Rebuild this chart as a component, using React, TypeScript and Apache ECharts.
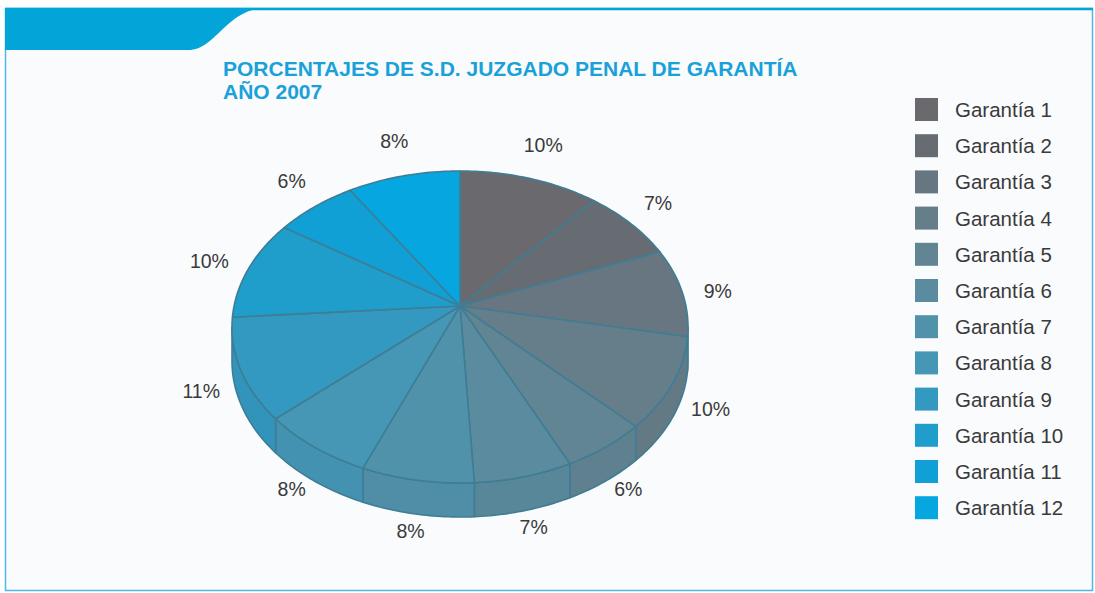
import React, { useEffect, useRef } from 'react';
import * as echarts from 'echarts';

const categories = [
  'Garantía 1', 'Garantía 2', 'Garantía 3', 'Garantía 4', 'Garantía 5', 'Garantía 6',
  'Garantía 7', 'Garantía 8', 'Garantía 9', 'Garantía 10', 'Garantía 11', 'Garantía 12',
];
const percentages = [10, 7, 9, 10, 6, 7, 8, 8, 11, 10, 6, 8];
const sliceColors = [
  '#6a6a6e', '#676c72', '#677680', '#667e89', '#628593', '#5b8b9f',
  '#5192ab', '#4697b6', '#3499c1', '#1f9dcb', '#10a0d5', '#06a7e1',
];
const titleText = 'PORCENTAJES DE S.D. JUZGADO PENAL DE GARANTÍA\nAÑO 2007';

// pie geometry: elliptical rim, apex above the ellipse centre (Excel-like 3D pie)
const CX = 460;
const EY = 327; // ellipse centre y
const AY = 306; // apex y
const RX = 228;
const RY = 156;
const T = 34;
const LX = 250; // label ellipse
const LY = 200;
const LCY = 335;
const EDGE = '#3f7d95';
const LABEL_FONT = 19.5;

function rim(theta: number, dy = 0): number[] {
  return [CX + RX * Math.sin(theta), EY - RY * Math.cos(theta) + dy];
}

function shade(hex: string, f: number): string {
  const n = parseInt(hex.slice(1), 16);
  const r = Math.round(((n >> 16) & 255) * f);
  const g = Math.round(((n >> 8) & 255) * f);
  const b = Math.round((n & 255) * f);
  return 'rgb(' + r + ',' + g + ',' + b + ')';
}

function bez(p0: number[], p1: number[], p2: number[], p3: number[], n: number): number[][] {
  const out: number[][] = [];
  for (let i = 0; i <= n; i++) {
    const t = i / n;
    const u = 1 - t;
    out.push([
      u * u * u * p0[0] + 3 * u * u * t * p1[0] + 3 * u * t * t * p2[0] + t * t * t * p3[0],
      u * u * u * p0[1] + 3 * u * u * t * p1[1] + 3 * u * t * t * p2[1] + t * t * t * p3[1],
    ]);
  }
  return out;
}

export default function App() {
  const ref = useRef<HTMLDivElement>(null);
  useEffect(() => {
    if (!ref.current) return;
    const chart = echarts.init(ref.current, null, { renderer: 'svg' });
    const total = percentages.reduce((a, b) => a + b, 0);
    const starts: number[] = [];
    let acc = 0;
    for (let i = 0; i < percentages.length; i++) {
      starts.push(acc);
      acc += percentages[i];
    }
    const thR = Math.PI / 2;
    const thL = (3 * Math.PI) / 2;

    const series = categories.map((name, i) => ({
      type: 'custom',
      name,
      coordinateSystem: 'none',
      silent: true,
      itemStyle: { color: sliceColors[i] },
      data: [[percentages[i]]],
      renderItem: (params: any, api: any) => {
        const v = api.value(0);
        const a0 = (starts[i] / total) * 2 * Math.PI;
        const a1 = ((starts[i] + v) / total) * 2 * Math.PI;
        const children: any[] = [];
        // top face
        const n = Math.max(8, Math.ceil((a1 - a0) * 60));
        const top: number[][] = [[CX, AY]];
        for (let k = 0; k <= n; k++) top.push(rim(a0 + ((a1 - a0) * k) / n));
        children.push({
          type: 'polygon',
          z2: 10,
          shape: { points: top },
          style: { fill: sliceColors[i], stroke: EDGE, lineWidth: 1.6, lineJoin: 'round' },
        });
        // side face
        const lo = Math.max(a0, thR);
        const hi = Math.min(a1, thL);
        if (hi > lo) {
          const m = Math.max(6, Math.ceil((hi - lo) * 60));
          const pts: number[][] = [];
          for (let k = 0; k <= m; k++) pts.push(rim(lo + ((hi - lo) * k) / m));
          for (let k = m; k >= 0; k--) pts.push(rim(lo + ((hi - lo) * k) / m, T));
          children.push({
            type: 'polygon',
            z2: 1,
            shape: { points: pts },
            style: { fill: shade(sliceColors[i], 0.97), stroke: EDGE, lineWidth: 1.6, lineJoin: 'round' },
          });
        }
        // label (box pushed outward by half its width)
        const txt = Math.round(v) + '%';
        const halfW = ((txt.length - 1) * 0.556 * LABEL_FONT + 0.889 * LABEL_FONT) / 2;
        const mid = (a0 + a1) / 2;
        children.push({
          type: 'text',
          z2: 20,
          x: CX + (LX + halfW) * Math.sin(mid),
          y: LCY - LY * Math.cos(mid),
          style: {
            text: txt,
            fill: '#3a3a3a',
            fontSize: LABEL_FONT,
            fontFamily: 'Liberation Sans, Arial, sans-serif',
            align: 'center',
            verticalAlign: 'middle',
          },
        });
        return { type: 'group', children };
      },
    }));

    const banner = [
      [5, 8],
      ...bez([262, 8], [225, 12], [215, 50], [188, 50], 30),
      [5, 50],
    ];

    chart.setOption({
      animation: false,
      backgroundColor: '#ffffff',
      title: {
        text: titleText,
        left: 223,
        top: 57,
        padding: 0,
        textStyle: {
          fontSize: 21,
          fontWeight: 'bold',
          color: '#1aa1d9',
          fontFamily: 'Liberation Sans, Arial, sans-serif',
          lineHeight: 23,
        },
      },
      legend: {
        orient: 'vertical',
        left: 915,
        top: 98,
        padding: 0,
        itemWidth: 23,
        itemHeight: 23,
        itemGap: 13.2,
        icon: 'rect',
        selectedMode: false,
        data: categories,
        textStyle: {
          fontSize: 20.5,
          color: '#3a3a3a',
          fontFamily: 'Liberation Sans, Arial, sans-serif',
          padding: [0, 0, 0, 12],
        },
      },
      graphic: [
        {
          type: 'rect',
          z: -10,
          shape: { x: 5.5, y: 8.5, width: 1087, height: 582 },
          style: { fill: '#f9fbfd', stroke: '#4db9e5', lineWidth: 1.5 },
        },
        {
          type: 'line',
          z: -9,
          shape: { x1: 5, y1: 9, x2: 1093, y2: 9 },
          style: { stroke: '#03a4d8', lineWidth: 2.5 },
        },
        {
          type: 'polygon',
          z: -8,
          shape: { points: banner },
          style: { fill: '#03a4d8' },
        },
      ],
      series,
    });
    return () => chart.dispose();
  }, []);
  return <div ref={ref} style={{ position: 'fixed', left: 0, top: 0, width: 1095, height: 593 }} />;
}
